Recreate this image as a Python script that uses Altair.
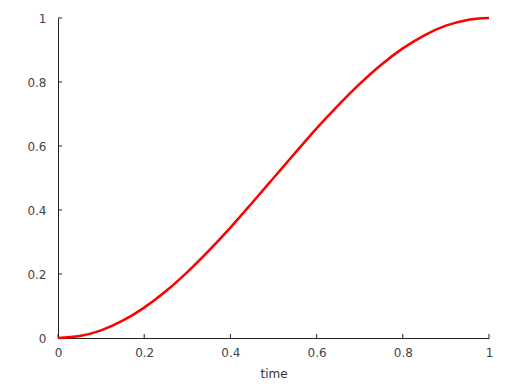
import altair as alt
import pandas as pd

time = [0.0, 0.05, 0.1, 0.15, 0.2, 0.25, 0.3, 0.35, 0.4, 0.45, 0.5,
        0.55, 0.6, 0.65, 0.7, 0.75, 0.8, 0.85, 0.9, 0.95, 1.0]
value = [0.0, 0.006, 0.024, 0.054, 0.095, 0.146, 0.206, 0.273, 0.345, 0.422, 0.5,
         0.578, 0.655, 0.727, 0.794, 0.854, 0.905, 0.946, 0.976, 0.994, 1.0]
x_ticks = [0, 0.2, 0.4, 0.6, 0.8, 1]
y_ticks = [0, 0.2, 0.4, 0.6, 0.8, 1]

df = pd.DataFrame({"time": time, "value": value})
xt = pd.DataFrame({"t": x_ticks})
yt = pd.DataFrame({"t": y_ticks})

font = "DejaVu Sans"
label_color = "#444444"
xscale = alt.Scale(domain=[0, 1], nice=False, zero=False)
yscale = alt.Scale(domain=[0, 1], nice=False, zero=False)

line = alt.Chart(df).mark_line(color="#ff0000", strokeWidth=2.5, interpolate="monotone").encode(
    x=alt.X("time:Q", scale=xscale, title="time",
            axis=alt.Axis(values=x_ticks, format="~g", grid=False, tickSize=0,
                          labelPadding=9, labelFlush=False, titlePadding=10,
                          domainColor="#222222", labelColor=label_color,
                          titleColor="#333333", labelFont=font, titleFont=font,
                          labelFontSize=12, titleFontSize=12, titleFontWeight="normal")),
    y=alt.Y("value:Q", scale=yscale, title=None,
            axis=alt.Axis(values=y_ticks, format="~g", grid=False, tickSize=0,
                          labelPadding=12, labelFlush=False,
                          domainColor="#222222", labelColor=label_color,
                          labelFont=font, labelFontSize=12)),
)

xticks = alt.Chart(xt).mark_rule(color="#222222", strokeWidth=1).encode(
    x=alt.X("t:Q", scale=xscale),
    y=alt.value(320), y2=alt.value(316),
)
yticks = alt.Chart(yt).mark_rule(color="#222222", strokeWidth=1).encode(
    y=alt.Y("t:Q", scale=yscale),
    x=alt.value(0), x2=alt.value(4),
)

chart = alt.layer(xticks, yticks, line).properties(
    width=431, height=320,
    background="white",
    autosize=alt.AutoSizeParams(type="none"),
    padding={"left": 58, "top": 18, "right": 19, "bottom": 52},
).configure_view(stroke=None, strokeWidth=0)

chart.save("out.html", embed_options={"renderer": "svg", "actions": False})
